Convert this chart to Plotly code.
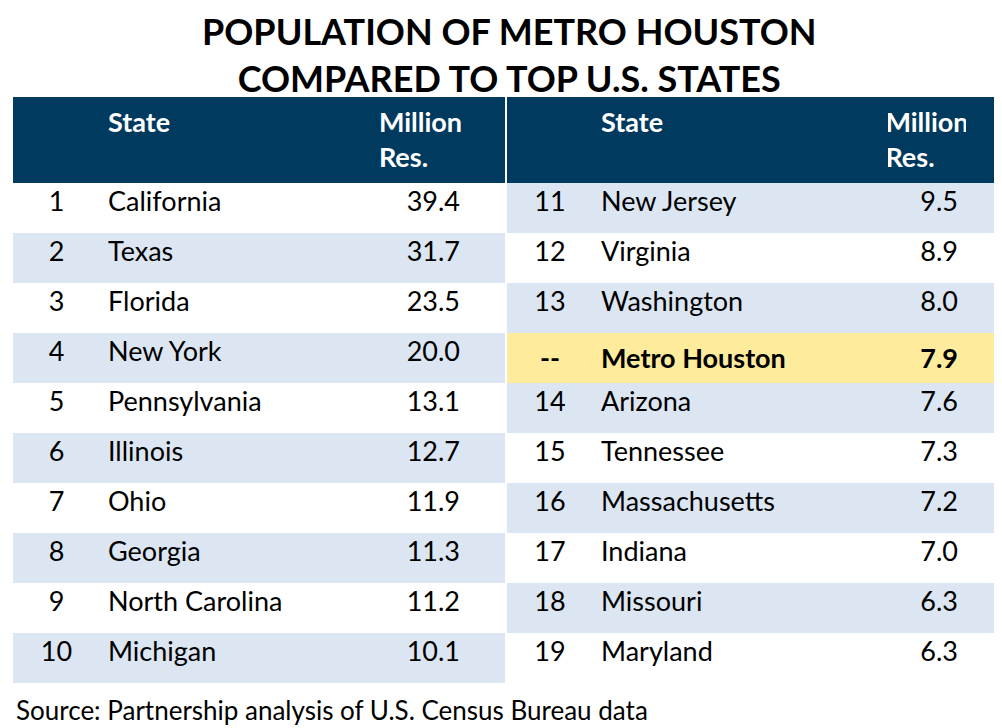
import plotly.graph_objects as go

left_rank = [str(i) for i in range(1, 11)]
left_state = ["California", "Texas", "Florida", "New York", "Pennsylvania", "Illinois",
              "Ohio", "Georgia", "North Carolina", "Michigan"]
left_val = [39.4, 31.7, 23.5, 20.0, 13.1, 12.7, 11.9, 11.3, 11.2, 10.1]

right_rank = ["11", "12", "13", "--", "14", "15", "16", "17", "18", "19"]
right_state = ["New Jersey", "Virginia", "Washington", "Metro Houston", "Arizona", "Tennessee",
               "Massachusetts", "Indiana", "Missouri", "Maryland"]
right_val = [9.5, 8.9, 8.0, 7.9, 7.6, 7.3, 7.2, 7.0, 6.3, 6.3]

NAVY = "#003A5E"
BLUE = "#DCE6F2"
WHITE = "#FFFFFF"
YELLOW = "#FFEB9C"
FONT = "Lato"
W, H = 1002, 728

left_fill = [BLUE if i % 2 == 1 else WHITE for i in range(10)]
right_fill = [BLUE, WHITE, BLUE, YELLOW, BLUE, WHITE, BLUE, WHITE, BLUE, WHITE]

def b(lst, idx):
    return [f"<b>{t}</b>" if i == idx else t for i, t in enumerate(lst)]

fig = go.Figure()

def add_table(x0, x1, ranks, states, vals, fills, widths, bold=None):
    vtxt = [f"{v:.1f}" for v in vals]
    if bold is not None:
        ranks, states, vtxt = b(ranks, bold), b(states, bold), b(vtxt, bold)
    fig.add_trace(go.Table(
        domain=dict(x=[x0 / W, x1 / W], y=[0, 1 - 89 / H]),
        columnwidth=widths,
        header=dict(values=["", "<br><b>State</b>", "<b>Million<br>Res.</b>", ""],
                    fill_color=NAVY, line=dict(width=0, color=NAVY),
                    align=["center", "left", "center", "center"],
                    font=dict(family=FONT, size=27, color="white"), height=86),
        cells=dict(values=[ranks, states, vtxt, [""] * 10],
                   fill_color=[fills] * 4, line=dict(width=0, color=WHITE),
                   align=["center", "left", "right", "center"],
                   font=dict(family=FONT, size=27, color="black"), height=50),
    ))

add_table(5, 497, left_rank, left_state, left_val, left_fill, [87, 273, 95, 37])
add_table(499, 995, right_rank, right_state, right_val, right_fill, [86, 295, 78, 37], bold=3)

fig.update_layout(
    width=W, height=H, margin=dict(l=0, r=0, t=0, b=0),
    paper_bgcolor="white", plot_bgcolor="white",
    annotations=[
        dict(text="<b>POPULATION OF METRO HOUSTON<br>COMPARED TO TOP U.S. STATES</b>",
             x=0.5, y=1 - 46 / H, xref="paper", yref="paper", showarrow=False,
             font=dict(family=FONT, size=36, color="black"), xanchor="center", yanchor="middle"),
        dict(text="Source: Partnership analysis of U.S. Census Bureau data",
             x=6 / W, y=1 - 702 / H, xref="paper", yref="paper", showarrow=False,
             font=dict(family=FONT, size=26, color="black"), xanchor="left", yanchor="middle"),
    ],
)
fig.write_html("out.html")
